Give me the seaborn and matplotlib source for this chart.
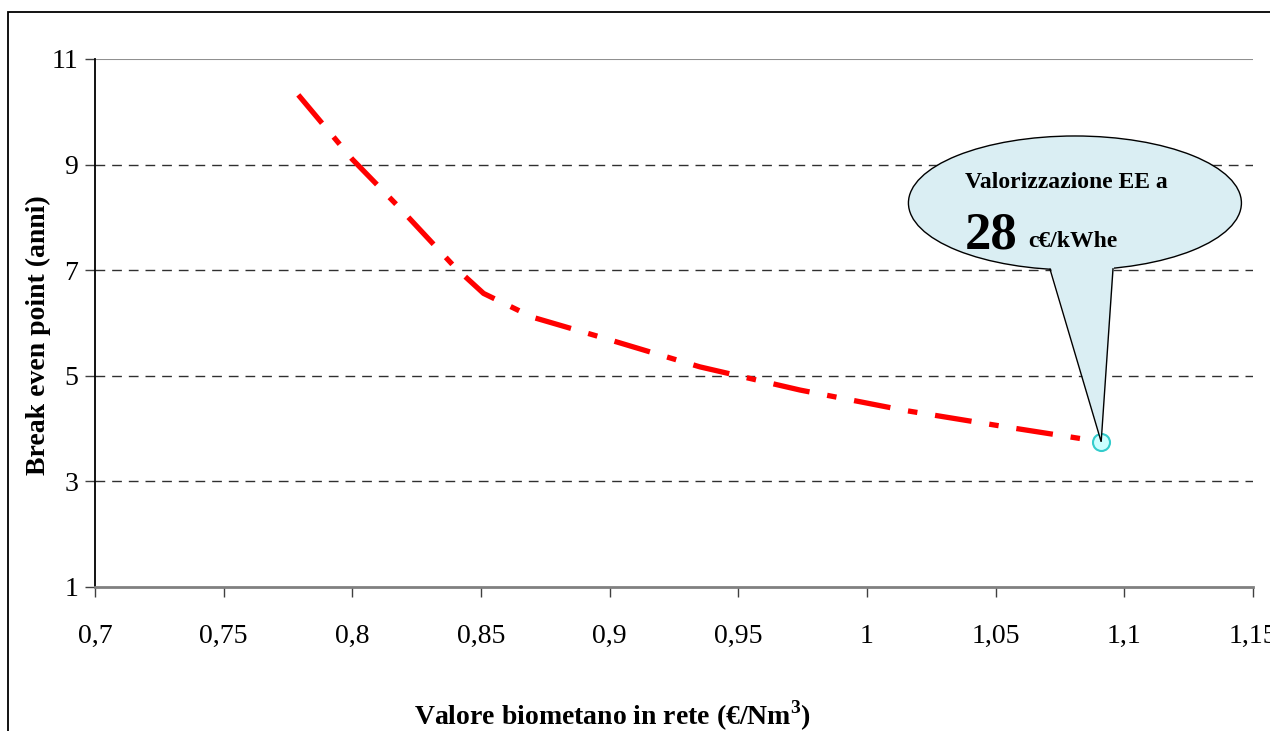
"""Break even point vs valore biometano"""
import matplotlib
matplotlib.use("Agg")
import matplotlib.pyplot as plt
import matplotlib.patches as mpatches
import seaborn as sns

# dati
valore_biometano = [0.779, 0.800, 0.818, 0.840, 0.851, 0.870, 0.896, 0.935, 0.974, 1.014, 1.053, 1.091]
break_even = [10.32, 9.10, 8.20, 7.05, 6.56, 6.11, 5.74, 5.17, 4.73, 4.35, 4.04, 3.75]
x_ticks = [0.7, 0.75, 0.8, 0.85, 0.9, 0.95, 1.0, 1.05, 1.1, 1.15]
x_tick_labels = ["0,7", "0,75", "0,8", "0,85", "0,9", "0,95", "1", "1,05", "1,1", "1,15"]
y_ticks = [1, 3, 5, 7, 9, 11]
callout_line1 = "Valorizzazione EE a"
callout_value = "28"
callout_unit = "c€/kWhe"

sns.set_style("white")
plt.rcParams["font.family"] = ["Liberation Serif", "DejaVu Serif"]
plt.rcParams["text.color"] = "black"
plt.rcParams["axes.labelcolor"] = "black"
plt.rcParams["xtick.color"] = "black"
plt.rcParams["ytick.color"] = "black"

fig = plt.figure(figsize=(12.7, 7.31), dpi=100)
ax = fig.add_axes([95 / 1270, 1 - 587 / 731, 1158 / 1270, 528 / 731])

sns.lineplot(x=valore_biometano, y=break_even, color="#FF0000", lw=3.8,
             sort=False, ax=ax, zorder=3)
ax.lines[0].set_linestyle((0, (7, 3.4, 1.8, 3.4)))
ax.lines[0].set_dash_capstyle("butt")

# punto finale evidenziato
ax.scatter([valore_biometano[-1]], [break_even[-1]], s=150, facecolor="#CCFFFF",
           edgecolor="#33CCCC", linewidth=1.5, zorder=4)

ax.set_xlim(0.7, 1.15)
ax.set_ylim(1, 11)
ax.set_xticks(x_ticks)
ax.set_xticklabels(x_tick_labels)
ax.set_yticks(y_ticks)

for y in y_ticks[1:-1]:
    ax.axhline(y, color="#303030", lw=1.0, linestyle=(0, (7, 5)), zorder=1)

for side in ["top", "right"]:
    ax.spines[side].set_visible(False)
ax.axhline(11, color="#909090", lw=1.5, zorder=1)
ax.spines["left"].set_color("black")
ax.spines["left"].set_linewidth(1.3)
ax.spines["bottom"].set_color("#808080")
ax.spines["bottom"].set_linewidth(2.0)

ax.tick_params(axis="x", direction="out", length=7.5, width=1, color="#404040",
               pad=19, labelsize=20, bottom=True)
ax.tick_params(axis="y", direction="out", length=7, width=1, color="#404040",
               pad=5, labelsize=20, left=True)

ax.set_xlabel("Valore biometano in rete (€/Nm$^\\mathregular{3}$)", fontsize=20, fontweight="bold")
ax.set_ylabel("Break even point (anni)", fontsize=20, fontweight="bold")
ax.xaxis.set_label_coords(0.4465, -0.212)
ax.yaxis.set_label_coords(-0.038, 0.477)

# fumetto
fill_col = "#DAEEF3"
tip = (valore_biometano[-1], break_even[-1])
ell = mpatches.Ellipse((1.0808, 8.273), 0.1294, 2.538, facecolor=fill_col,
                       edgecolor="black", lw=1.0, zorder=5)
ax.add_patch(ell)
tail = mpatches.Polygon([(1.0705, 7.20), (1.0962, 7.20), tip], closed=True,
                        facecolor=fill_col, edgecolor="none", zorder=6)
ax.add_patch(tail)
ax.plot([1.0711, tip[0], 1.0956], [7.023, tip[1], 7.03], color="black", lw=1.0,
        zorder=7, solid_joinstyle="miter")

ax.text(1.0381, 8.67, callout_line1, fontsize=17, fontweight="bold",
        va="center", ha="left", zorder=8)
ax.text(1.0381, 7.42, callout_value, fontsize=38, fontweight="bold",
        va="baseline", ha="left", zorder=8)
ax.text(1.0626, 7.44, callout_unit, fontsize=17, fontweight="bold",
        va="baseline", ha="left", zorder=8)

# cornice esterna
fig.patches.append(mpatches.Rectangle((8 / 1270, -0.05), 1.0, 1.05 - 12 / 731,
                                      transform=fig.transFigure, fill=False,
                                      edgecolor="black", lw=1.3))

fig.savefig("out.png", dpi=100)
plt.close(fig)
